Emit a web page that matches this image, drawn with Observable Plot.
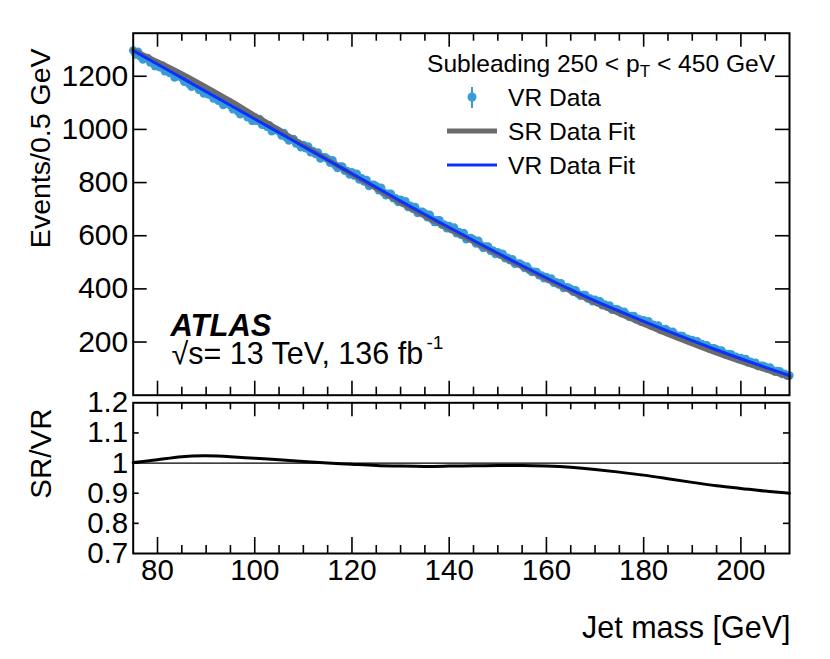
<!DOCTYPE html>
<html>
<head>
<meta charset="utf-8">
<script src="https://cdn.jsdelivr.net/npm/d3@7"></script>
<script src="https://cdn.jsdelivr.net/npm/@observablehq/plot@0.6"></script>
<style>
  html, body { margin: 0; padding: 0; background: white; }
  #chart { position: relative; width: 830px; height: 659px; overflow: hidden; font-family: "Liberation Sans", Arial, sans-serif; }
  #chart > svg { position: absolute; left: 0; }
</style>
</head>
<body>
<div id="chart"></div>
<script>
// ---------- data ----------
const binStart = 75, binWidth = 0.5;   // 0.5 GeV bins, one value per bin below
const vrData = [
  1297,1282,1292,1274,1263,1269,1269,1252,1252,1238,
  1247,1234,1241,1219,1224,1212,1218,1195,1200,1200,
  1194,1179,1189,1171,1160,1166,1166,1149,1149,1135,
  1144,1131,1138,1116,1121,1108,1115,1092,1097,1097,
  1091,1076,1086,1068,1057,1063,1063,1046,1046,1032,
  1045,1032,1039,1017,1022,1010,1016,993,998,998,
  992,977,987,969,958,964,964,947,947,933,
  942,929,936,914,919,907,913,890,895,895,
  889,874,884,866,855,861,861,844,844,830,
  839,826,833,811,816,804,810,787,792,792,
  786,771,781,763,752,758,758,741,741,727,
  736,723,730,708,713,701,708,685,690,690,
  684,669,679,662,651,658,658,641,642,628,
  637,624,631,609,614,603,610,587,592,592,
  586,571,581,565,554,560,560,543,545,531,
  538,528,532,515,517,508,512,494,496,496,
  490,478,484,471,463,465,464,451,451,440,
  445,436,439,423,425,416,421,403,406,405,
  400,389,395,382,374,377,377,364,364,353,
  359,350,354,338,341,333,338,321,324,324,
  319,308,314,303,295,298,298,285,287,276,
  282,273,278,262,265,257,262,245,248,249,
  243,234,239,228,222,224,223,213,213,205,
  208,200,203,191,193,186,188,176,177,177,
  172,164,168,158,152,155,154,144,145,136,
  140,133,136,123,126,119,122,110,111,111,
  107,99,104,94,88,91,90,80,81,73,
  74
];
const fitMass = [75,80,85,90,95,100,105,110,115,120,125,130,135,140,145,150,155,160,165,170,175,180,185,190,195,200,205,210];
const vrFit = [1297,1245,1194,1142,1091,1039,988,936,885,833,782,730,680,631,582,534,487,441,397,355,316,278,241,205,170,137,105,74];
const srFit = [1299,1255,1210,1160,1108,1053,998,941,886,831,777,724,673,625,577,530,483,437,391,348,307,267,229,193,158,126,96,67];
const ratio = [1.002,1.011,1.021,1.024,1.021,1.016,1.011,1.005,1.000,0.996,0.992,0.990,0.989,0.990,0.991,0.992,0.992,0.990,0.986,0.979,0.970,0.960,0.948,0.936,0.925,0.916,0.907,0.900];

const xMajor = [80,100,120,140,160,180,200];
const xMinor = [85,90,95,105,110,115,125,130,135,145,150,155,165,170,175,185,190,195,205];
const yTicksTop = [200,400,600,800,1000,1200];
const yTicksRatio = [0.7,0.8,0.9,1,1.1,1.2];
const yTicksRatioInner = [0.8,0.9,1,1.1];

const legendHeader = ["Subleading 250 < p", "T", " < 450 GeV"];
const legendLabels = ["VR Data", "SR Data Fit", "VR Data Fit"];

// ---------- derived tables ----------
const points = vrData.map((v, i) => ({m: binStart + i * binWidth, v}));
const fits = fitMass.map((m, i) => ({m, vr: vrFit[i], sr: srFit[i], r: ratio[i]}));

const C_DATA = "#3a9bd6", C_SR = "#6b6b6b", C_VR = "#0a32ff";
const FONT = "Liberation Sans, Arial, sans-serif";

const W = 830, ML = 132.7, MR = 41;
const FW = W - ML - MR;

// ---------- top panel ----------
const H1 = 400, MT1 = 32.7, MB1 = 5.3, FH1 = H1 - MT1 - MB1;
const topPanel = Plot.plot({
  width: W, height: H1,
  marginTop: MT1, marginBottom: MB1, marginLeft: ML, marginRight: MR,
  x: {domain: [75, 210], axis: null},
  y: {domain: [0, 1362], axis: null},
  style: {fontFamily: FONT, fontSize: "30px", color: "black", background: "white", overflow: "visible"},
  marks: [
    Plot.dot(points, {x: "m", y: "v", r: 4.2, fill: C_DATA, stroke: null}),
    Plot.line(fits, {x: "m", y: "sr", stroke: C_SR, strokeWidth: 5, curve: "natural"}),
    Plot.line(fits, {x: "m", y: "vr", stroke: C_VR, strokeWidth: 3, curve: "natural"}),
    Plot.axisY({ticks: yTicksTop, tickSize: 0, tickPadding: 5, tickFormat: d => String(d), label: null, fontSize: 30}),
    Plot.tickX(xMajor, {x: d => d, insetBottom: FH1 - 14, stroke: "black", strokeWidth: 1.6}),
    Plot.tickX(xMinor, {x: d => d, insetBottom: FH1 - 8, stroke: "black", strokeWidth: 1.6}),
    Plot.tickX(xMajor, {x: d => d, insetTop: FH1 - 14, stroke: "black", strokeWidth: 1.6}),
    Plot.tickX(xMinor, {x: d => d, insetTop: FH1 - 8, stroke: "black", strokeWidth: 1.6}),
    Plot.tickY(yTicksTop, {y: d => d, insetRight: FW - 14, stroke: "black", strokeWidth: 1.6}),
    Plot.tickY(yTicksTop, {y: d => d, insetLeft: FW - 14, stroke: "black", strokeWidth: 1.6}),
    Plot.frame({stroke: "black", strokeWidth: 2}),
    Plot.text(["Events/0.5 GeV"], {frameAnchor: "top-left", rotate: -90, textAnchor: "end", lineAnchor: "bottom",
      dx: 49.5 - ML, dy: 48 - MT1, fontSize: 28.5, fill: "black"}),
    Plot.text(["ATLAS"], {frameAnchor: "top-left", textAnchor: "start", lineAnchor: "bottom",
      dx: 170 - ML, dy: 335 - MT1, fontSize: 31, fontWeight: "bold", fontStyle: "italic", fill: "black"}),
    Plot.text(["\u221As= 13 TeV, 136 fb"], {frameAnchor: "top-left", textAnchor: "start", lineAnchor: "bottom",
      dx: 171 - ML, dy: 363 - MT1, fontSize: 30.5, fill: "black"}),
    Plot.text(["-1"], {frameAnchor: "top-left", textAnchor: "start", lineAnchor: "bottom",
      dx: 426 - ML, dy: 348 - MT1, fontSize: 19, fill: "black"})
  ]
});
topPanel.style.top = "0px";

// legend (inside top panel)
const svgTop = d3.select(topPanel);
const lg = svgTop.append("g").attr("font-family", FONT).attr("fill", "black").attr("text-anchor", "start");
const hdr = lg.append("text").attr("x", 427).attr("y", 72).attr("font-size", 24.6);
hdr.append("tspan").text(legendHeader[0]);
hdr.append("tspan").attr("font-size", 17).attr("dy", 5).text(legendHeader[1]);
hdr.append("tspan").attr("dy", -5).text(legendHeader[2]);
const rowsY = [97, 131, 165];
legendLabels.forEach((t, i) => {
  lg.append("text").attr("x", 508).attr("y", rowsY[i]).attr("dy", "0.35em").attr("font-size", 24.6).text(t);
});
lg.append("line").attr("x1", 472).attr("x2", 472).attr("y1", 87).attr("y2", 108).attr("stroke", C_DATA).attr("stroke-width", 2);
lg.append("circle").attr("cx", 472).attr("cy", 97).attr("r", 4.5).attr("fill", C_DATA);
lg.append("line").attr("x1", 447).attr("x2", 497).attr("y1", 131).attr("y2", 131).attr("stroke", C_SR).attr("stroke-width", 5);
lg.append("line").attr("x1", 447).attr("x2", 497).attr("y1", 165).attr("y2", 165).attr("stroke", C_VR).attr("stroke-width", 3);

// ---------- ratio panel ----------
const TOP2 = 395, H2 = 659 - TOP2, MT2 = 402.3 - TOP2, MB2 = 659 - 553, FH2 = H2 - MT2 - MB2;
const ratioPanel = Plot.plot({
  width: W, height: H2,
  marginTop: MT2, marginBottom: MB2, marginLeft: ML, marginRight: MR,
  x: {domain: [75, 210], axis: null},
  y: {domain: [0.7, 1.2], axis: null},
  style: {fontFamily: FONT, fontSize: "29.5px", color: "black", background: "transparent", overflow: "visible"},
  marks: [
    Plot.ruleY([1], {stroke: "black", strokeWidth: 1.2}),
    Plot.line(fits, {x: "m", y: "r", stroke: "black", strokeWidth: 3, curve: "natural"}),
    Plot.axisY({ticks: yTicksRatio, tickSize: 0, tickPadding: 5, tickFormat: d => String(d), label: null}),
    Plot.axisX({ticks: xMajor, tickSize: 0, tickPadding: 6, tickFormat: d => String(d), label: null}),
    Plot.tickX(xMajor, {x: d => d, insetBottom: FH2 - 14, stroke: "black", strokeWidth: 1.6}),
    Plot.tickX(xMinor, {x: d => d, insetBottom: FH2 - 7, stroke: "black", strokeWidth: 1.6}),
    Plot.tickX(xMajor, {x: d => d, insetTop: FH2 - 16, stroke: "black", strokeWidth: 1.6}),
    Plot.tickX(xMinor, {x: d => d, insetTop: FH2 - 8, stroke: "black", strokeWidth: 1.6}),
    Plot.tickY(yTicksRatioInner, {y: d => d, insetRight: FW - 6, stroke: "black", strokeWidth: 1.6}),
    Plot.tickY(yTicksRatioInner, {y: d => d, insetLeft: FW - 6, stroke: "black", strokeWidth: 1.6}),
    Plot.frame({stroke: "black", strokeWidth: 2}),
    Plot.text(["SR/VR"], {frameAnchor: "top-left", rotate: -90, textAnchor: "end", lineAnchor: "bottom",
      dx: 50 - ML, dy: 408 - 402.3, fontSize: 29.5, fill: "black"}),
    Plot.text(["Jet mass [GeV]"], {frameAnchor: "bottom-right", textAnchor: "end", lineAnchor: "bottom",
      dx: 1, dy: 637 - 553, fontSize: 30.5, fill: "black"})
  ]
});
ratioPanel.style.top = TOP2 + "px";

const chart = document.getElementById("chart");
chart.appendChild(topPanel);
chart.appendChild(ratioPanel);
</script>
</body>
</html>
